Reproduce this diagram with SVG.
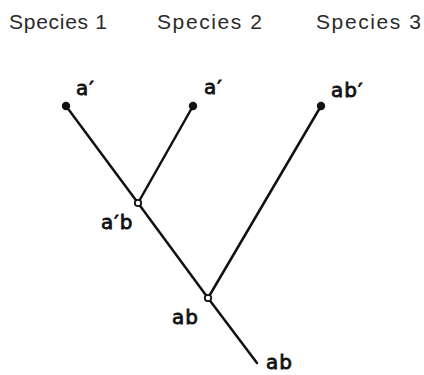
<svg xmlns="http://www.w3.org/2000/svg" width="424" height="375" viewBox="0 0 424 375">
<style>
.sp{font-family:"Liberation Sans",Arial,sans-serif;font-size:21px;fill:#2a2a2a}
.lb{font-family:"DejaVu Sans",sans-serif;font-size:20px;fill:#111;stroke:#111;stroke-width:0.8;letter-spacing:1px}
.ln{stroke:#111;stroke-width:2.5;fill:none;stroke-linecap:round}
.tip{fill:#111}
.int{fill:#fff;stroke:#111;stroke-width:1.8}
</style>
<rect width="424" height="375" fill="#fff"/>
<g id="headers">
<text class="sp" x="9" y="29" textLength="98">Species 1</text>
<text class="sp" x="157" y="29" textLength="105">Species 2</text>
<text class="sp" x="316" y="29" textLength="105">Species 3</text>
</g>
<g id="connectors">
<line class="ln" x1="66" y1="106" x2="138" y2="203"/>
<line class="ln" x1="193" y1="106" x2="138" y2="203"/>
<line class="ln" x1="138" y1="203" x2="208" y2="298"/>
<line class="ln" x1="321" y1="106" x2="208" y2="298"/>
<line class="ln" x1="208" y1="298" x2="257" y2="363"/>
</g>
<g id="species1"><circle class="tip" cx="66" cy="106" r="4.2"/><text class="lb" x="76" y="95">a′</text></g>
<g id="species2"><circle class="tip" cx="193" cy="106" r="4.2"/><text class="lb" x="204" y="94">a′</text></g>
<g id="species3"><circle class="tip" cx="321" cy="106" r="4.2"/><text class="lb" x="331" y="97">ab′</text></g>
<g id="node-ab1"><circle class="int" cx="138" cy="203" r="3.2"/><text class="lb" x="101" y="229">a′b</text></g>
<g id="node-ab2"><circle class="int" cx="208" cy="298" r="3.2"/><text class="lb" x="172" y="324">ab</text></g>
<g id="root"><text class="lb" x="266" y="369">ab</text></g>
</svg>
